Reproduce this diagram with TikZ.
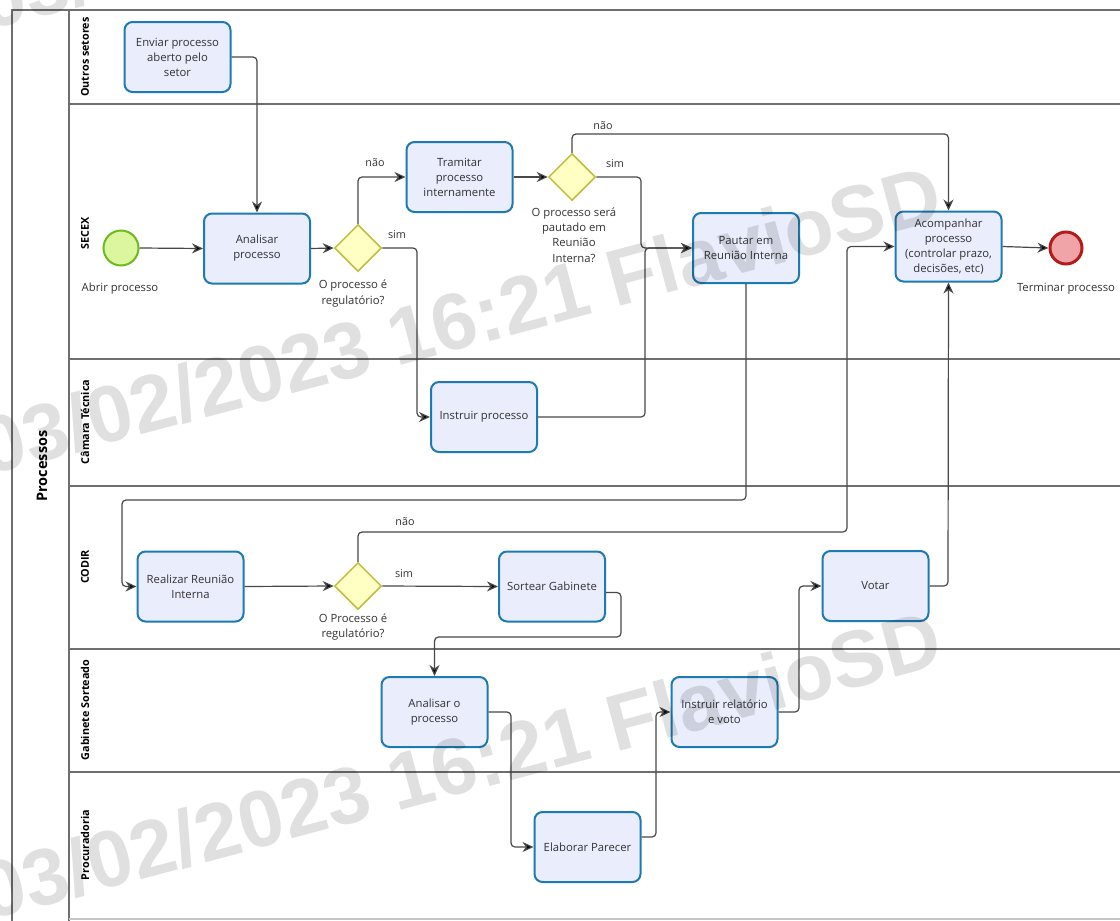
\documentclass[tikz,border=0pt]{standalone}
\usepackage{fontspec}
\setmainfont{Open Sans}
\newfontfamily\wmfont{Liberation Sans}
\usetikzlibrary{shapes.geometric,arrows.meta}

\definecolor{taskfill}{RGB}{233,237,252}
\definecolor{taskline}{RGB}{30,122,178}
\definecolor{gwfill}{RGB}{255,255,196}
\definecolor{gwline}{RGB}{190,190,60}
\definecolor{startfill}{RGB}{220,246,160}
\definecolor{startline}{RGB}{108,186,30}
\definecolor{endfill}{RGB}{240,164,168}
\definecolor{endline}{RGB}{178,28,28}
\definecolor{flowline}{RGB}{72,72,72}
\definecolor{txt}{RGB}{51,51,51}
\definecolor{laneline}{RGB}{110,110,110}

\begin{document}
\begin{tikzpicture}[x=1pt,y=-1pt,
  task/.style={draw=taskline, fill=taskfill, line width=2pt, rounded corners=8pt,
    minimum width=106pt, minimum height=70pt, align=center, text=txt,
    font=\fontsize{11.3}{15}\selectfont, inner sep=2pt},
  gateway/.style={diamond, draw=gwline, fill=gwfill, line width=1.5pt,
    minimum width=47pt, minimum height=47pt, inner sep=0pt},
  startev/.style={circle, draw=startline, fill=startfill, line width=2pt,
    minimum size=35pt, inner sep=0pt},
  endev/.style={circle, draw=endline, fill=endfill, line width=3pt,
    minimum size=32pt, inner sep=0pt},
  note/.style={text=txt, align=center, font=\fontsize{11.3}{15.3}\selectfont, inner sep=0pt},
  flowlbl/.style={text=txt, font=\fontsize{10.8}{12}\selectfont, inner sep=0pt},
  lanelbl/.style={rotate=90, font=\bfseries\fontsize{10.8}{12}\selectfont, inner sep=0pt},
  lane/.style={draw=laneline, line width=1.3pt},
  flow/.style={draw=flowline, line width=1.2pt, rounded corners=4pt,
    -{Stealth[length=11pt,width=10pt,inset=3.5pt,fill=black]}},
  watermark/.style={rotate=15, text=black, opacity=0.12,
    font=\wmfont\bfseries\fontsize{80}{80}\selectfont, inner sep=0pt}
]
\useasboundingbox (0,0) rectangle (1120,921);
\fill[white] (0,0) rectangle (1120,921);

% pool and lanes
\draw[lane] (1120,10) -- (12,10) -- (12,921);
\draw[lane] (69,10) -- (69,921);
\draw[lane] (69,104) -- (1120,104);
\draw[lane] (69,359) -- (1120,359);
\draw[lane] (69,486) -- (1120,486);
\draw[lane] (69,649) -- (1120,649);
\draw[lane] (69,772) -- (1120,772);
\draw[lane, draw=laneline!40] (69,919) -- (1120,919);

\node[rotate=90, font=\bfseries\fontsize{14.5}{16}\selectfont, inner sep=0pt] (pool) at (42,466) {Processos};
\node[lanelbl] (l1) at (85,57) {Outros setores};
\node[lanelbl] (l2) at (85,233) {SECEX};
\node[lanelbl] (l3) at (85,422) {Câmara Técnica};
\node[lanelbl] (l4) at (85,567) {CODIR};
\node[lanelbl] (l5) at (85,710) {Gabinete Sorteado};
\node[lanelbl] (l6) at (85,845) {Procuradoria};

% activities
\node[task] (env) at (177.5,57) {Enviar processo\\aberto pelo\\setor};
\node[task] (ana) at (257,248.5) {Analisar\\processo};
\node[task] (tram) at (459.5,177) {Tramitar\\processo\\internamente};
\node[task] (paut) at (746,248) {Pautar em\\Reunião Interna};
\node[task] (acomp) at (948.5,246.5) {Acompanhar\\processo\\(controlar prazo,\\decisões, etc)};
\node[task] (instr) at (484,417) {Instruir processo};
\node[task] (real) at (190.5,586.5) {Realizar Reunião\\Interna};
\node[task] (sort) at (552,586.5) {Sortear Gabinete};
\node[task] (votar) at (875.5,586) {Votar};
\node[task] (anao) at (434.5,712) {Analisar o\\processo};
\node[task] (irv) at (724.5,712) {Instruir relatório\\e voto};
\node[task] (elab) at (587.5,847) {Elaborar Parecer};

% events and gateways
\node[startev] (start) at (121,248) {};
\node[endev] (fim) at (1066,248) {};
\node[gateway] (gw1) at (358,248) {};
\node[gateway] (gw2) at (572,177) {};
\node[gateway] (gw3) at (358,586) {};

\node[note] (startlbl) at (120,289) {Abrir processo};
\node[note] (fimlbl) at (1066,289) {Terminar processo};
\node[note] (gw1lbl) at (353,293.5) {O processo é\\regulatório?};
\node[note] (gw2lbl) at (574,235) {O processo será\\pautado em\\Reunião\\Interna?};
\node[note] (gw3lbl) at (353,627) {O Processo é\\regulatório?};

% sequence flows
\draw[flow] (env.east) -| (ana.north);
\draw[flow] (start.east) -- (ana.west);
\draw[flow] (ana.east) -- (gw1.west);
\draw[flow] (gw1.north) |- (tram.west);
\draw[flow] (gw1.east) -- (417,248) |- (instr.west);
\draw[flow] (tram.east) -- (gw2.west);
\draw[flow] (gw2.north) -- (572,134) -| (acomp.north);
\draw[flow] (gw2.east) -- (641,177) |- (paut.west);
\draw[flow] (instr.east) -- (645,417) -- (645,248) -- (paut.west);
\draw[flow] (paut.south) -- (746,500) -- (122,500) |- (real.west);
\draw[flow] (real.east) -- (gw3.west);
\draw[flow] (gw3.north) -- (358,532) -- (847,532) |- (acomp.west);
\draw[flow] (gw3.east) -- (sort.west);
\draw[flow] ([yshift=-6pt]sort.east) -- (621,592.5) -- (621,637) -| (anao.north);
\draw[flow] (anao.east) -- (511,712) |- (elab.west);
\draw[flow] ([yshift=10pt]elab.east) -- (656,837) |- (irv.west);
\draw[flow] (irv.east) -- (799,712) |- (votar.west);
\draw[flow] (votar.east) -- (948,586) -- (acomp.south);
\draw[flow] (acomp.east) -- (fim.west);

% flow labels
\node[flowlbl] (n1) at (375,163) {não};
\node[flowlbl] (s1) at (397,235) {sim};
\node[flowlbl] (n2) at (603,126) {não};
\node[flowlbl] (s2) at (615,164) {sim};
\node[flowlbl] (n3) at (405,522) {não};
\node[flowlbl] (s3) at (404,574) {sim};

% stamp
\node[watermark] (wm0) at (460,-125) {03/02/2023 16:21 FlavioSD};
\node[watermark] (wm1) at (460,320) {03/02/2023 16:21 FlavioSD};
\node[watermark] (wm2) at (460,765) {03/02/2023 16:21 FlavioSD};
\end{tikzpicture}
\end{document}
